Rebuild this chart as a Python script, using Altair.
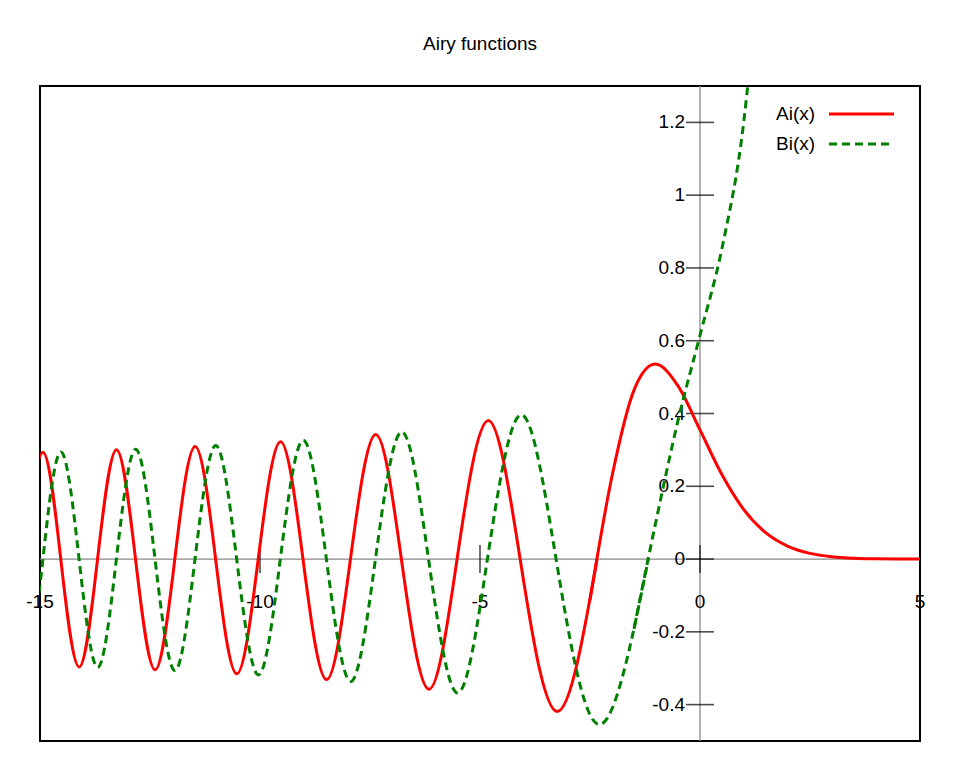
import altair as alt
import pandas as pd

# ---- data (extrema, zero crossings and sample points) ----
# oscillating part of Ai(x)
ai_osc_x = [-15.341, -14.933, -14.528, -14.110, -13.692, -13.262, -12.829,
            -12.385, -11.936, -11.475, -11.009, -10.528, -10.040, -9.535, -9.023,
            -8.488, -7.944, -7.372, -6.787, -6.163, -5.521, -4.820, -4.088,
            -3.248, -2.338]
ai_osc_y = [0.0, 0.2932, 0.0, -0.2965, 0.0, 0.3002, 0.0,
            -0.3045, 0.0, 0.3095, 0.0, -0.3154, 0.0, 0.3225, 0.0,
            -0.3312, 0.0, 0.3425, 0.0, -0.3579, 0.0, 0.3804, 0.0,
            -0.4190, 0.0]
# main lobe and decaying tail of Ai(x)
ai_tail_x = [-2.5, -2.0, -1.5, -1.019, -0.5, 0.0, 0.5, 1.0, 1.5, 2.0, 2.5,
             3.0, 3.5, 4.0, 4.5, 5.0]
ai_tail_y = [-0.1123, 0.2274, 0.4642, 0.5357, 0.4757, 0.3550, 0.2317, 0.1353,
             0.0717, 0.0349, 0.0157, 0.0066, 0.0025, 0.00095, 0.00033, 0.00011]

# oscillating part of Bi(x)
bi_osc_x = [-15.74, -15.33, -14.934, -14.526, -14.112, -13.690, -13.264, -12.826,
            -12.386, -11.934, -11.477, -11.006, -10.530, -10.037, -9.538, -9.019,
            -8.491, -7.940, -7.376, -6.781, -6.170, -5.513, -4.831, -4.073,
            -3.271, -2.294, -1.174]
bi_osc_y = [0.0, -0.2905, 0.0, 0.2943, 0.0, -0.2978, 0.0, 0.3018,
            0.0, -0.3064, 0.0, 0.3119, 0.0, -0.3184, 0.0, 0.3263,
            0.0, -0.3363, 0.0, 0.3494, 0.0, -0.3679, 0.0, 0.3965,
            0.0, -0.4549, 0.0]
# rising part of Bi(x)
bi_rise_x = [-1.5, -1.0, -0.5, 0.0, 0.5, 1.0, 1.5]
bi_rise_y = [-0.1918, 0.1040, 0.3804, 0.6149, 0.8543, 1.2074, 1.8789]

x_ticks = [-15, -10, -5, 0, 5]
x_tick_labels = ["-15", "-10", "-5", "0", "5"]
y_ticks = [-0.4, -0.2, 0, 0.2, 0.4, 0.6, 0.8, 1, 1.2]
y_tick_labels = ["-0.4", "-0.2", "0", "0.2", "0.4", "0.6", "0.8", "1", "1.2"]

FONT = "Liberation Sans"
FS = 19
RED = "#ff0000"
GREEN = "#008000"

xs = alt.Scale(domain=[-15, 5], nice=False, zero=False)
ys = alt.Scale(domain=[-0.5, 1.3], nice=False, zero=False)

zero_df = pd.DataFrame({"v": [0]})
xt_df = pd.DataFrame({"t": x_ticks, "lab": x_tick_labels, "z": [0] * len(x_ticks)})
yt_df = pd.DataFrame({"t": y_ticks, "lab": y_tick_labels, "z": [0] * len(y_ticks)})


def X(f):
    return alt.X(f, type="quantitative", scale=xs, axis=None)


def Y(f):
    return alt.Y(f, type="quantitative", scale=ys, axis=None)


def curve(xv, yv, color, interp, dash=None):
    kw = dict(color=color, strokeWidth=3, interpolate=interp, clip=True)
    if dash:
        kw["strokeDash"] = dash
    return alt.Chart(pd.DataFrame({"x": xv, "y": yv})).mark_line(**kw).encode(
        x=X("x"), y=Y("y"), order="x:Q")


zero_h = alt.Chart(zero_df).mark_rule(color="#888888", strokeWidth=1.3).encode(y=Y("v"))
zero_v = alt.Chart(zero_df).mark_rule(color="#888888", strokeWidth=1.3).encode(x=X("v"))

xticks = alt.Chart(xt_df).transform_filter("datum.t > -15 && datum.t < 5").mark_tick(
    orient="vertical", size=28, thickness=1.6, color="black"
).encode(x=X("t"), y=Y("z"))
yticks = alt.Chart(yt_df).mark_tick(
    orient="horizontal", size=28, thickness=1.6, color="black"
).encode(x=X("z"), y=Y("t"))

xlabels = alt.Chart(xt_df).mark_text(
    font=FONT, fontSize=FS, align="center", baseline="middle", dy=43, color="black"
).encode(x=X("t"), y=Y("z"), text="lab:N")
ylabels = alt.Chart(yt_df).mark_text(
    font=FONT, fontSize=FS, align="right", baseline="middle", dx=-15, color="black"
).encode(x=X("z"), y=Y("t"), text="lab:N")

ai_osc = curve(ai_osc_x, ai_osc_y, RED, "natural")
ai_tail = curve(ai_tail_x, ai_tail_y, RED, "monotone")
bi_osc = curve(bi_osc_x, bi_osc_y, GREEN, "natural", [8, 5])
bi_rise = curve(bi_rise_x, bi_rise_y, GREEN, "monotone", [8, 5])

leg_ai_t = alt.Chart(pd.DataFrame({"s": ["Ai(x)"]})).mark_text(
    font=FONT, fontSize=FS, align="left", baseline="middle", color="black"
).encode(x=alt.value(736), y=alt.value(28), text="s:N")
leg_bi_t = alt.Chart(pd.DataFrame({"s": ["Bi(x)"]})).mark_text(
    font=FONT, fontSize=FS, align="left", baseline="middle", color="black"
).encode(x=alt.value(736), y=alt.value(58), text="s:N")
leg_ai_l = alt.Chart(pd.DataFrame({"s": ["Ai(x)"]})).mark_rule(
    color=RED, strokeWidth=3
).encode(x=alt.value(789), x2=alt.value(854), y=alt.value(28))
leg_bi_l = alt.Chart(pd.DataFrame({"s": ["Bi(x)"]})).mark_rule(
    color=GREEN, strokeWidth=3, strokeDash=[8, 5]
).encode(x=alt.value(789), x2=alt.value(854), y=alt.value(58))

chart = alt.layer(
    zero_h, zero_v, xticks, yticks, xlabels, ylabels,
    ai_osc, ai_tail, bi_osc, bi_rise,
    leg_ai_t, leg_bi_t, leg_ai_l, leg_bi_l
).properties(
    width=880,
    height=655,
    title=alt.TitleParams("Airy functions", font=FONT, fontSize=FS, fontWeight="normal",
                          anchor="middle", offset=31, color="black"),
    autosize=alt.AutoSizeParams(type="none"),
    padding={"left": 32, "top": 78, "right": 32, "bottom": 19},
    background="white",
).configure_view(stroke="black", strokeWidth=2)

chart.save("out.html", embed_options={"renderer": "svg", "actions": False})
